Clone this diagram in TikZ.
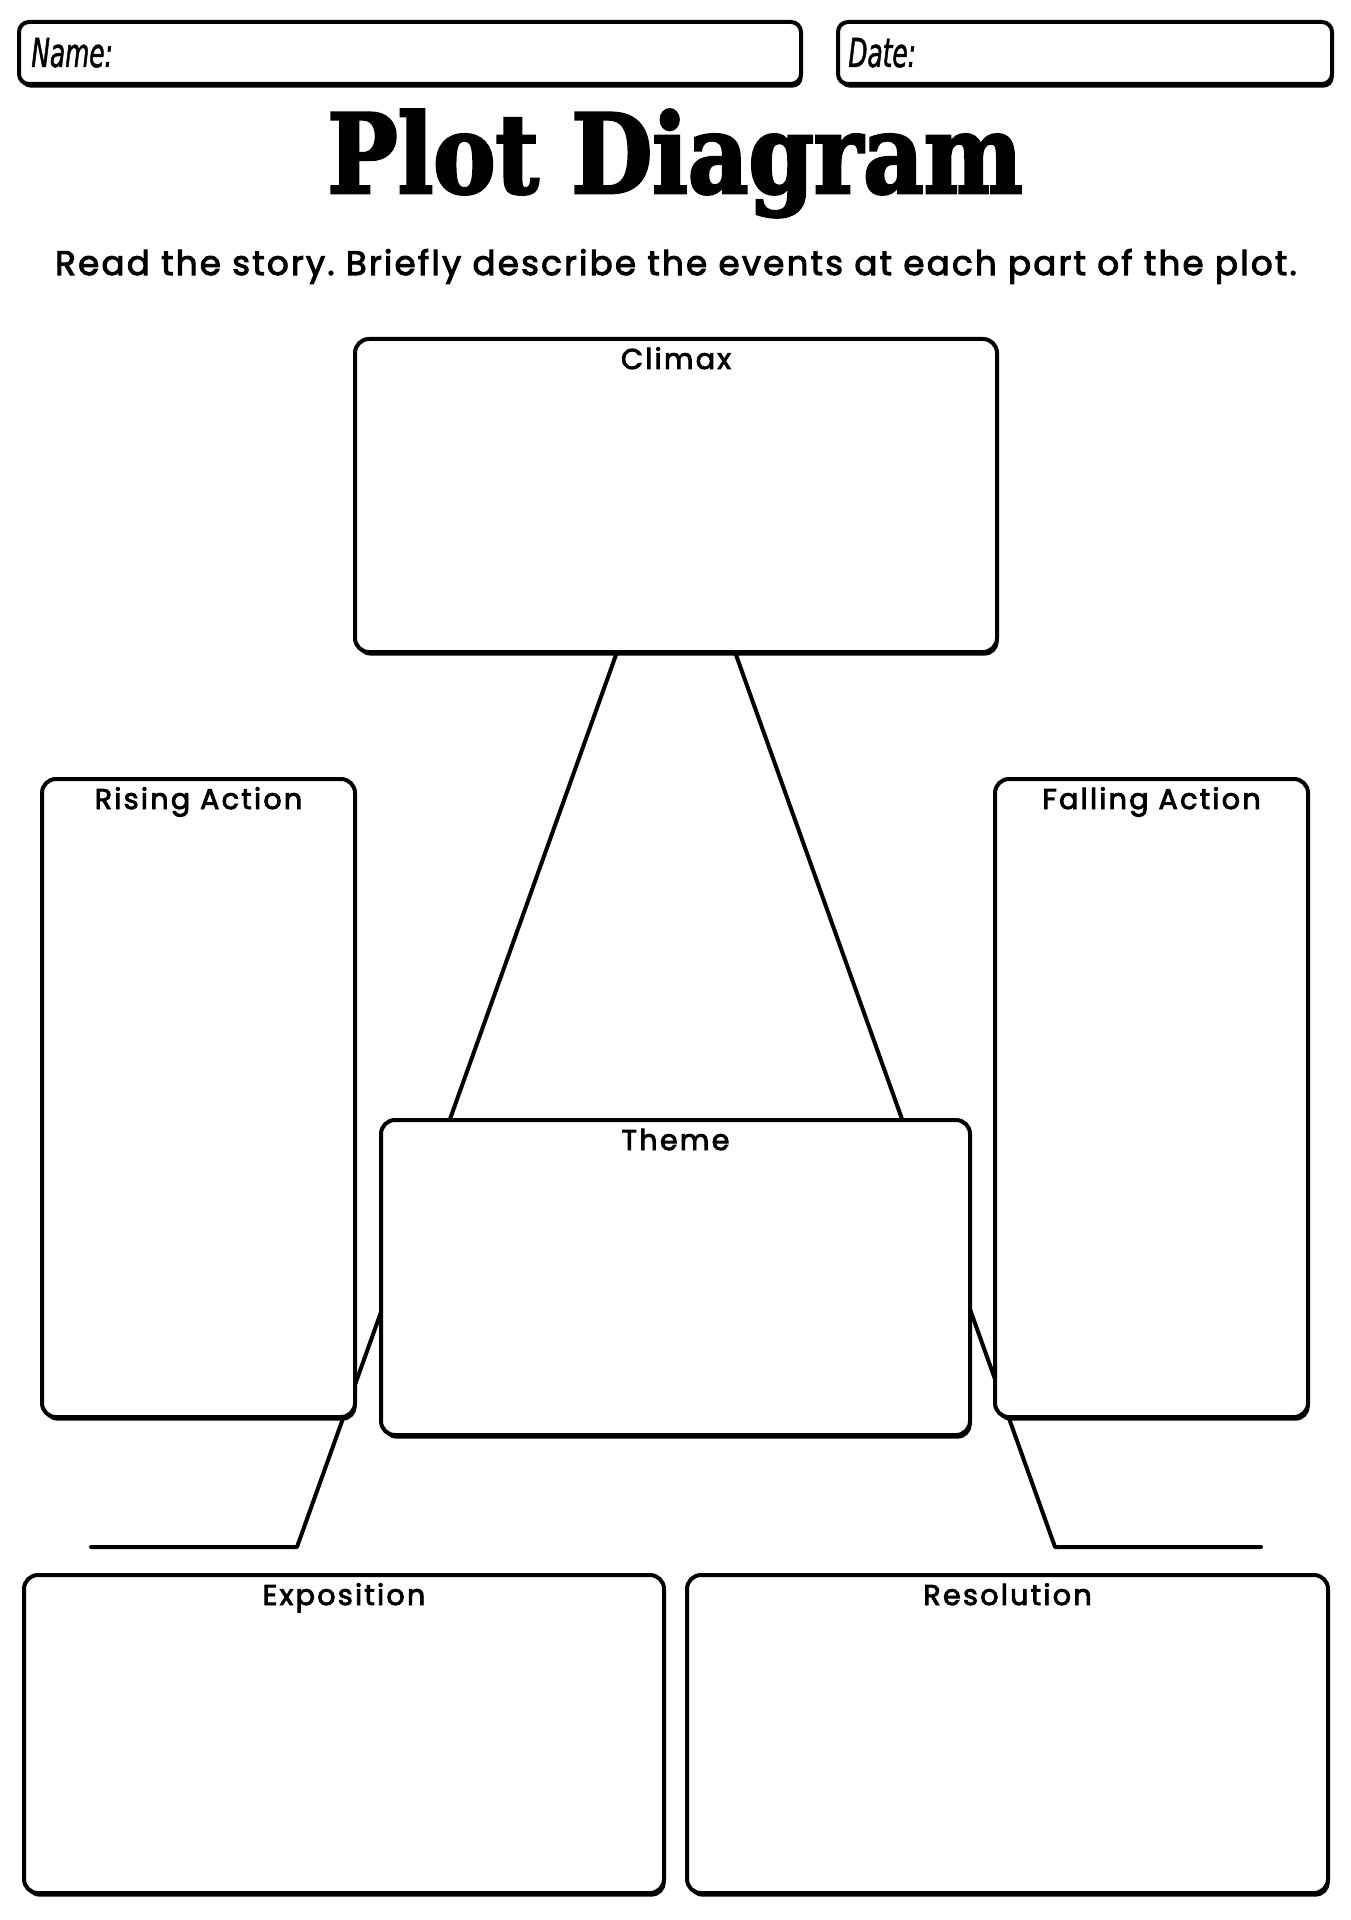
\documentclass[tikz,border=0pt]{standalone}
\usepackage{fontspec}
\setmainfont{Poppins}
\newfontfamily\titlefont{DejaVu Serif}[FakeStretch=0.85,FakeBold=2.5]
\newfontfamily\handfont{DejaVu Sans}[FakeStretch=0.62,FakeBold=1.2]
\newfontfamily\labelfont{Poppins}[LetterSpace=8,FakeBold=3]
\newfontfamily\subfont{Poppins}[LetterSpace=6.7,FakeBold=3]
\usetikzlibrary{positioning,backgrounds,shadows}
\frenchspacing
\begin{document}
\begin{tikzpicture}[x=0.5pt, y=-0.5pt,
  box/.style={draw, line width=2pt, rounded corners=7pt, fill=white, inner sep=0pt, outer sep=0pt,
    drop shadow={shadow xshift=0.8pt, shadow yshift=-1.8pt, opacity=1, fill=black}},
  boxtitle/.style={anchor=base, inner sep=0pt, font=\labelfont\fontsize{14.3}{16}\selectfont},
  hand/.style={anchor=base west, inner sep=0pt, font=\handfont\itshape\fontsize{20}{22}\selectfont},
  plotline/.style={line width=2pt, line cap=round, line join=round}]
\useasboundingbox (0,0) rectangle (1350,1920);
%header:
\node[box, rounded corners=5pt, minimum width=391pt, minimum height=31pt] (name) at (410,53) {};
\node[hand] (namelabel) at (31,67) {Name:};
\node[box, rounded corners=5pt, minimum width=247pt, minimum height=31pt] (date) at (1085,53) {};
\node[hand] (datelabel) at (848,67) {Date:};
\node[anchor=base, inner sep=0pt, font=\titlefont\bfseries\fontsize{55}{60}\selectfont] (title) at (675,193) {Plot Diagram};
\node[anchor=base, inner sep=0pt, font=\subfont\fontsize{17}{20}\selectfont] (subtitle) at (676,275) {Read the story. Briefly describe the events at each part of the plot.};
%boxes:
\node[box, minimum width=321pt, minimum height=156.5pt] (climax) at (676,495.5) {};
\node[box, minimum width=156.5pt, minimum height=319pt] (rising) at (198.5,1098) {};
\node[box, minimum width=156.5pt, minimum height=319pt] (falling) at (1151.5,1098) {};
\node[box, minimum width=294.5pt, minimum height=157.5pt] (theme) at (675.5,1277.5) {};
\node[box, minimum width=320pt, minimum height=159pt] (exposition) at (344,1734) {};
\node[box, minimum width=320.5pt, minimum height=159pt] (resolution) at (1007.5,1734) {};
%box titles:
\node[boxtitle] (climaxtitle) at ([yshift=-15pt]climax.north) {Climax};
\node[boxtitle] (risingtitle) at ([yshift=-15pt]rising.north) {Rising Action};
\node[boxtitle] (fallingtitle) at ([yshift=-15pt]falling.north) {Falling Action};
\node[boxtitle] (themetitle) at ([yshift=-15pt]theme.north) {Theme};
\node[boxtitle] (expositiontitle) at ([yshift=-15pt]exposition.north) {Exposition};
\node[boxtitle] (resolutiontitle) at ([yshift=-15pt]resolution.north) {Resolution};
%plot line:
\coordinate (leftknee) at (297,1547);
\coordinate (leftend) at (91,1547);
\coordinate (rightknee) at (1055,1547);
\coordinate (rightend) at (1261,1547);
\begin{scope}[on background layer]
\draw[plotline] ([xshift=-29.5pt]climax.south) -- (leftknee) -- (leftend);
\draw[plotline] ([xshift=29.5pt]climax.south) -- (rightknee) -- (rightend);
\end{scope}
\end{tikzpicture}
\end{document}
